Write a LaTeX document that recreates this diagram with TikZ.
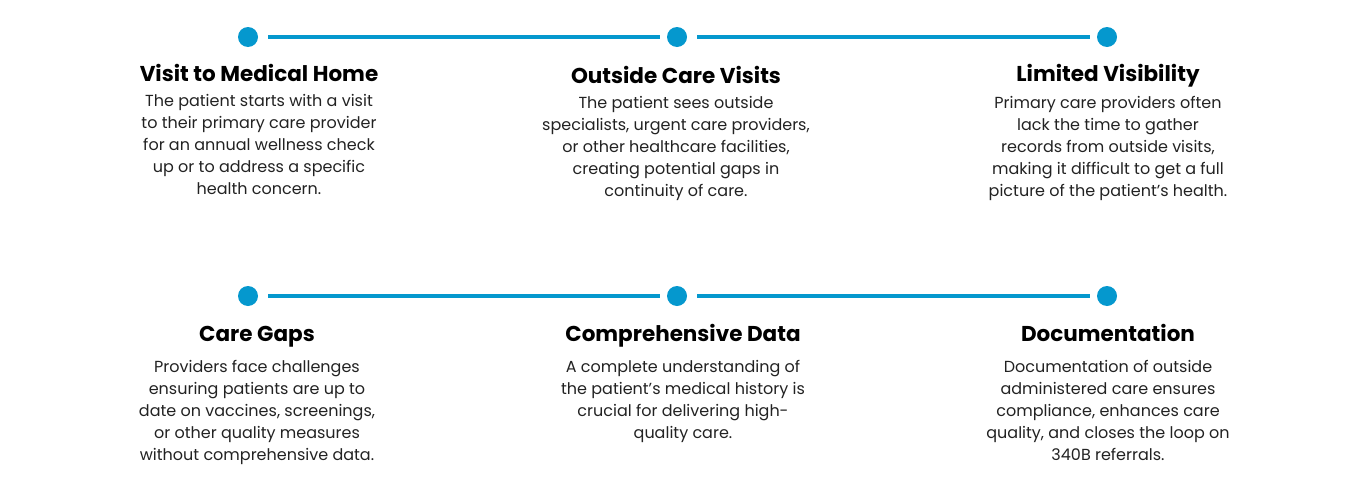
\documentclass[tikz,border=0pt]{standalone}
\usepackage{fontspec}
\setmainfont{Poppins}
\usetikzlibrary{positioning}
\definecolor{dotblue}{HTML}{0598CE}
\definecolor{bodygray}{HTML}{222222}
\tikzset{
  dot/.style={circle,fill=dotblue,inner sep=0pt,minimum size=20pt},
  link/.style={draw=dotblue,line width=4pt,shorten <=10pt,shorten >=7pt},
  heading/.style={font=\fontsize{21.5}{24}\selectfont\bfseries,inner sep=0pt,text depth=5pt,anchor=base},
  blurb/.style={font=\fontsize{16}{22}\selectfont,text=bodygray,align=center,inner sep=0pt},
}

\begin{document}
\begin{tikzpicture}[x=1pt,y=-1pt]
        \useasboundingbox (0,0) rectangle (1366,498);
        % Top row
        \node[dot] (d1) at (248,37) {};
        \node[dot] (d2) at (677,37) {};
        \node[dot] (d3) at (1107,37) {};
        \draw[link] (d1) -- (d2);
        \draw[link] (d2) -- (d3);
        \node[heading] (visit) at (259,81) {Visit to Medical Home};
        \node[blurb,below=8pt of visit] (visittext) {The patient starts with a visit\\to their primary care provider\\for an annual wellness check\\up or to address a specific\\health concern.};
        \node[heading] (outside) at (676,83) {Outside Care Visits};
        \node[blurb,below=8pt of outside] (outsidetext) {The patient sees outside\\specialists, urgent care providers,\\or other healthcare facilities,\\creating potential gaps in\\continuity of care.};
        \node[heading] (limited) at (1108,81) {Limited Visibility};
        \node[blurb,below=10pt of limited] (limitedtext) {Primary care providers often\\lack the time to gather\\records from outside visits,\\making it difficult to get a full\\picture of the patient’s health.};
        % Bottom row
        \node[dot] (d4) at (248,296) {};
        \node[dot] (d5) at (677,296) {};
        \node[dot] (d6) at (1107,296) {};
        \draw[link] (d4) -- (d5);
        \draw[link] (d5) -- (d6);
        \node[heading] (gaps) at (257,341) {Care Gaps};
        \node[blurb,below=14pt of gaps] (gapstext) {Providers face challenges\\ensuring patients are up to\\date on vaccines, screenings,\\or other quality measures\\without comprehensive data.};
        \node[heading] (data) at (683,341) {Comprehensive Data};
        \node[blurb,below=14pt of data] (datatext) {A complete understanding of\\the patient’s medical history is\\crucial for delivering high-\\quality care.};
        \node[heading] (docs) at (1108,341) {Documentation};
        \node[blurb,below=14pt of docs] (docstext) {Documentation of outside\\administered care ensures\\compliance, enhances care\\quality, and closes the loop on\\340B referrals.};
\end{tikzpicture}
\end{document}
